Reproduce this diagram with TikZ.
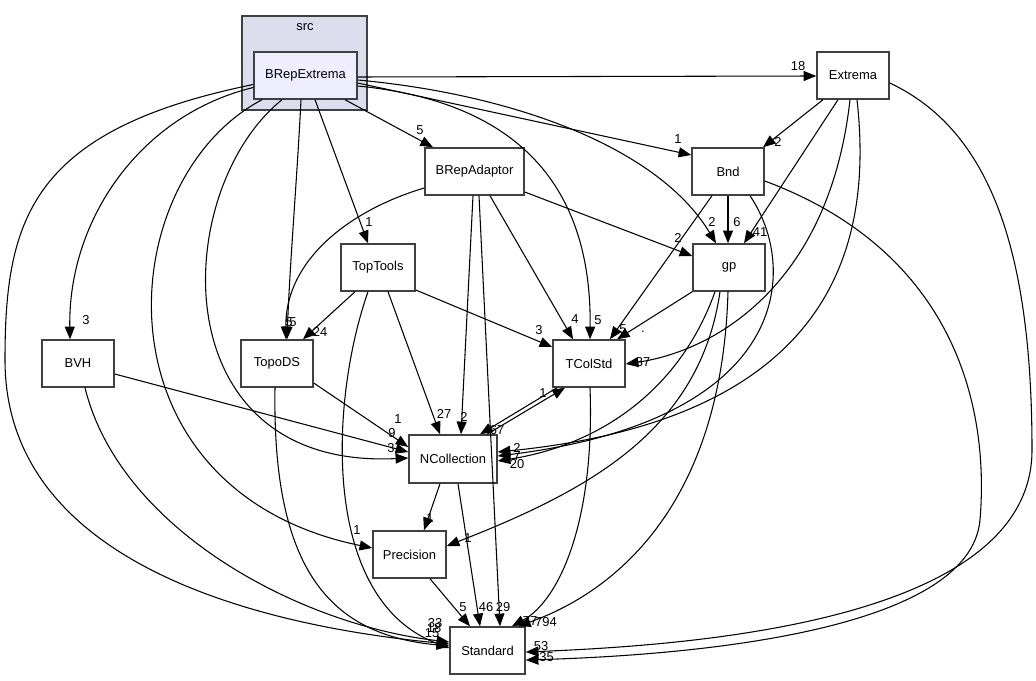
\documentclass[tikz,border=0pt]{standalone}
\usepackage{fontspec}
\setmainfont{Liberation Sans}
\usetikzlibrary{calc,arrows.meta}
\definecolor{boxline}{HTML}{404040}
\definecolor{clusterfill}{HTML}{DDDDEE}
\definecolor{mainfill}{HTML}{EEEEFF}
\definecolor{edgecol}{HTML}{000000}
\tikzset{
  dirbox/.style={draw=boxline,line width=1.1pt,fill=white,inner sep=0pt,font=\fontsize{9.7}{11}\selectfont},
  mainbox/.style={dirbox,fill=mainfill},
  dep/.style={draw=edgecol,line width=0.8pt,-{Triangle[length=9.5pt,width=7.5pt]}},
  lbl/.style={inner sep=0pt,font=\fontsize{9.7}{11}\selectfont}
}
\begin{document}
\begin{tikzpicture}[x=0.75pt,y=-0.75pt]
\useasboundingbox (0,0) rectangle (1036,681);
\fill[white] (0,0) rectangle (1036,681);
% cluster
\node[draw=boxline,line width=1.1pt,fill=clusterfill,minimum width=125*0.75pt,minimum height=94*0.75pt,inner sep=0pt] (src) at (304.5,63) {};
\node[lbl] (srclbl) at (305,27) {src};
% nodes
\node[mainbox,minimum width=103*0.75pt,minimum height=47*0.75pt] (brx) at (305.5,75.5) {BRepExtrema};
\node[dirbox,minimum width=72*0.75pt,minimum height=47*0.75pt] (ext) at (853,75.5) {Extrema};
\node[dirbox,minimum width=99*0.75pt,minimum height=47*0.75pt] (bra) at (474.5,171.5) {BRepAdaptor};
\node[dirbox,minimum width=72*0.75pt,minimum height=47*0.75pt] (bnd) at (728,171.5) {Bnd};
\node[dirbox,minimum width=74*0.75pt,minimum height=47*0.75pt] (tt) at (378,267.5) {TopTools};
\node[dirbox,minimum width=72*0.75pt,minimum height=47*0.75pt] (gp) at (729,267.5) {gp};
\node[dirbox,minimum width=72*0.75pt,minimum height=47*0.75pt] (bvh) at (78,363.5) {BVH};
\node[dirbox,minimum width=72*0.75pt,minimum height=47*0.75pt] (tds) at (277,363.5) {TopoDS};
\node[dirbox,minimum width=72*0.75pt,minimum height=47*0.75pt] (tcs) at (589,363.5) {TColStd};
\node[dirbox,minimum width=88*0.75pt,minimum height=48*0.75pt] (ncol) at (453,459) {NCollection};
\node[dirbox,minimum width=73*0.75pt,minimum height=47*0.75pt] (prec) at (409.5,554.5) {Precision};
\node[dirbox,minimum width=75*0.75pt,minimum height=47*0.75pt] (std) at (487.5,650.5) {Standard};
% edges from BRepExtrema
\draw[dep] ($(brx.east)+(0,1.5)$) -- ($(ext.west)+(0,0.5)$);
\draw[dep] ($(brx.south)+(39.5,0)$) -- ($(bra.north)+(-41.5,0)$);
\draw[dep] ($(brx.east)+(0,7.5)$) -- ($(bnd.west)+(0,-16.5)$);
\draw[dep] ($(brx.east)+(0,4.5)$) .. controls (520,95) and (660,150) .. ($(gp.north)+(-13,0)$);
\draw[dep] ($(brx.east)+(0,10.5)$) .. controls (500,100) and (592,170) .. ($(tcs.north)+(1,0)$);
\draw[dep] ($(brx.south)+(9.5,0)$) -- ($(tt.north)+(-10,0)$);
\draw[dep] ($(brx.south)+(-4.5,0)$) .. controls (297,180) and (290,260) .. ($(tds.north)+(10,0)$);
\draw[dep] ($(brx.west)+(0,12)$) .. controls (140,115) and (68,220) .. ($(bvh.north)+(-8,0)$);
\draw[dep] ($(brx.south)+(-23.5,0)$) .. controls (170,190) and (160,470) .. ($(ncol.west)+(0,-1)$);
\draw[dep] ($(brx.south)+(-43.5,0)$) .. controls (110,180) and (90,490) .. ($(prec.west)+(0,-6.5)$);
\draw[dep] ($(brx.west)+(0,9)$) .. controls (30,130) and (5,220) .. (5,360) .. controls (5,560) and (250,625) .. ($(std.west)+(0,-6.5)$);
% BVH
\draw[dep] ($(bvh.east)+(0,10.5)$) -- ($(ncol.west)+(0,-7)$);
\draw[dep] ($(bvh.south)+(7,0)$) .. controls (120,530) and (300,625) .. ($(std.west)+(0,-8.5)$);
% TopoDS
\draw[dep] ($(tds.east)+(0,19.5)$) -- ($(ncol.west)+(0,-12)$);
\draw[dep] ($(tds.south)+(-2,0)$) .. controls (272,570) and (330,635) .. ($(std.west)+(0,-4.5)$);
% TopTools
\draw[dep] ($(tt.south)+(-23,0)$) -- ($(tds.north)+(26,0)$);
\draw[dep] ($(tt.east)+(0,22.5)$) -- ($(tcs.west)+(0,-16.5)$);
\draw[dep] ($(tt.south)+(10,0)$) -- ($(ncol.north)+(-13,0)$);
\draw[dep] ($(tt.south)+(-10,0)$) .. controls (330,400) and (320,600) .. ($(std.west)+(0,-2.5)$);
% BRepAdaptor
\draw[dep] ($(bra.west)+(0,16.5)$) .. controls (350,210) and (285,260) .. ($(tds.north)+(9,0)$);
\draw[dep] ($(bra.east)+(0,20.5)$) -- ($(gp.west)+(0,-11.5)$);
\draw[dep] ($(bra.south)+(15.5,0)$) -- ($(tcs.north)+(-16,0)$);
\draw[dep] ($(bra.south)+(-1.5,0)$) -- ($(ncol.north)+(8,0)$);
\draw[dep] ($(bra.south)+(4.5,0)$) -- ($(std.north)+(12.5,0)$);
% Bnd
\draw[dep] (bnd.south) -- ($(gp.north)+(-1,0)$);
\draw[dep] ($(bnd.south)+(-16,0)$) -- ($(tcs.north)+(21,0)$);
\draw[dep] ($(bnd.south)+(22,0)$) .. controls (800,270) and (790,420) .. ($(ncol.east)+(0,-3)$);
\draw[dep] ($(bnd.east)+(0,9.5)$) .. controls (950,250) and (990,400) .. (980,520) .. controls (970,630) and (700,655) .. ($(std.east)+(0,9.5)$);
% Extrema
\draw[dep] ($(ext.south)+(-30,0)$) -- ($(bnd.north)+(35,0)$);
\draw[dep] ($(ext.south)+(-15,0)$) -- ($(gp.north)+(15,0)$);
\draw[dep] ($(ext.south)+(-3,0)$) .. controls (830,280) and (720,350) .. ($(tcs.east)+(0,0.5)$);
\draw[dep] ($(ext.south)+(4,0)$) .. controls (875,260) and (820,420) .. ($(ncol.east)+(0,-7)$);
\draw[dep] ($(ext.east)+(0,7.5)$) .. controls (990,130) and (1032,250) .. (1032,450) .. controls (1032,620) and (700,645) .. ($(std.east)+(0,1.5)$);
% gp
\draw[dep] (gp.south west) -- ($(tcs.north)+(28,0)$);
\draw[dep] ($(gp.south)+(-14,0)$) .. controls (680,390) and (600,445) .. ($(ncol.east)+(0,2)$);
\draw[dep] ($(gp.south)+(-9,0)$) .. controls (700,430) and (590,490) .. ($(prec.east)+(0,-8.5)$);
\draw[dep] ($(gp.south)+(-1,0)$) .. controls (722,500) and (620,590) .. ($(std.north)+(30.5,0)$);
% TColStd / NCollection
\draw[dep] ($(tcs.south)+(-32,0)$) -- ($(ncol.north)+(27,0)$);
\draw[dep] ($(ncol.north)+(34,0)$) -- ($(tcs.south)+(-24,0)$);
\draw[dep] ($(tcs.south)+(1,0)$) .. controls (595,520) and (560,600) .. ($(std.north)+(24.5,0)$);
\draw[dep] ($(ncol.south)+(-13,0)$) -- ($(prec.north)+(14.5,0)$);
\draw[dep] ($(ncol.south)+(5,0)$) -- ($(std.north)+(-7.5,0)$);
\draw[dep] ($(prec.south)+(20.5,0)$) -- ($(std.north)+(-17.5,0)$);
% labels
\node[lbl] (l1) at (798,66) {18};
\node[lbl] (l2) at (420,130) {5};
\node[lbl] (l3) at (678,139) {1};
\node[lbl] (l4) at (712,222) {2};
\node[lbl] (l5) at (598,320) {5};
\node[lbl] (l6) at (369,222) {1};
\node[lbl] (l7) at (289,322) {5};
\node[lbl] (l7b) at (293,322) {5};
\node[lbl] (l8) at (86,320) {3};
\node[lbl] (l9) at (391,448) {3};
\node[lbl] (l10) at (357,530) {1};
\node[lbl] (l11) at (392,433) {9};
\node[lbl] (l12) at (398,419) {1};
\node[lbl] (l13) at (320,332) {24};
\node[lbl] (l14) at (539,330) {3};
\node[lbl] (l15) at (444,414) {27};
\node[lbl] (l16) at (678,238) {2};
\node[lbl] (l17) at (575,319) {4};
\node[lbl] (l18) at (464,417) {2};
\node[lbl] (l19) at (503,607) {29};
\node[lbl] (l20) at (737,222) {6};
\node[lbl] (l21) at (623,329) {5};
\node[lbl] (l22) at (778,142) {2};
\node[lbl] (l23) at (760,232) {41};
\node[lbl] (l24) at (643,362) {37};
\node[lbl] (l25) at (643,332) {.};
\node[lbl] (l26) at (497,430) {67};
\node[lbl] (l27) at (543,393) {1};
\node[lbl] (l28) at (430,518) {1};
\node[lbl] (l29) at (468,538) {1};
\node[lbl] (l30) at (486,607) {46};
\node[lbl] (l31) at (463,607) {5};
\node[lbl] (l32) at (517,448) {2};
\node[lbl] (l33) at (517,456) {7};
\node[lbl] (l34) at (517,464) {20};
\node[lbl] (l35) at (435,623) {33};
\node[lbl] (l36) at (434,628) {18};
\node[lbl] (l37) at (432,633) {15};
\node[lbl] (l38) at (530,621) {77};
\node[lbl] (l39) at (546,622) {794};
\node[lbl] (l40) at (541,646) {53};
\node[lbl] (l41) at (543,657) {335};
\end{tikzpicture}
\end{document}
